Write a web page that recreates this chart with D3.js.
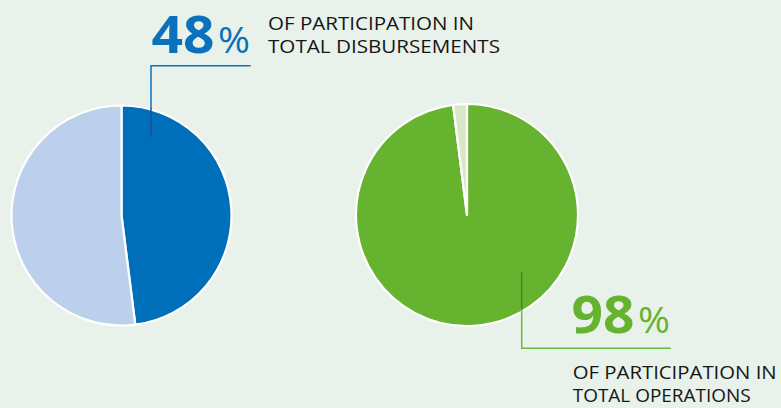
<!DOCTYPE html>
<html>
<head>
<meta charset="utf-8">
<script src="https://cdn.jsdelivr.net/npm/d3@7"></script>
<style>
html,body{margin:0;padding:0;background:#e8f2ea;}
svg{display:block;}
text{font-family:"Open Sans","Noto Sans",sans-serif;}
</style>
</head>
<body>
<svg id="chart" width="781" height="408"></svg>
<script>
const disbLabels = ["Participation", "Others"];
const disbValues = [48, 52];
const disbColors = ["#006fb9", "#bcd0ed"];

const opLabels = ["Participation", "Others"];
const opValues = [98, 2];
const opColors = ["#66b32f", "#d8e8c7"];

const headline1 = ["48", "%"];
const caption1 = ["OF PARTICIPATION IN", "TOTAL DISBURSEMENTS"];
const headline2 = ["98", "%"];
const caption2 = ["OF PARTICIPATION IN", "TOTAL OPERATIONS"];

const svg = d3.select("#chart");
svg.append("rect").attr("width", 781).attr("height", 408).attr("fill", "#e8f2ea");

const pie = d3.pie().sort(null).value(d => d);

function drawPie(cx, cy, r, values, colors) {
  const g = svg.append("g").attr("transform", `translate(${cx},${cy})`);
  const arc = d3.arc().innerRadius(0).outerRadius(r);
  g.selectAll("path").data(pie(values)).join("path")
    .attr("d", arc)
    .attr("fill", (d, i) => colors[i])
    .attr("stroke", "#ffffff")
    .attr("stroke-width", 2.2)
    .attr("stroke-linejoin", "round");
  return g;
}

drawPie(121.5, 215.5, 110, disbValues, disbColors);
drawPie(467, 215, 111, opValues, opColors);

// Leader line left
svg.append("path").attr("d", "M250.7,65.7 H151 V106.5").attr("fill", "none")
  .attr("stroke", "#0b73c1").attr("stroke-width", 1.5);
svg.append("line").attr("x1", 151).attr("x2", 151).attr("y1", 106.5).attr("y2", 136.5)
  .attr("stroke", "#1c4f90").attr("stroke-width", 1.5);

// Leader line right
svg.append("line").attr("x1", 521.7).attr("x2", 521.7).attr("y1", 271.5).attr("y2", 309)
  .attr("stroke", "#3f8a25").attr("stroke-width", 1.5);
svg.append("path").attr("d", "M521.7,309 V348.3 H670.7").attr("fill", "none")
  .attr("stroke", "#6ab83e").attr("stroke-width", 1.5);

function headline(x, y, parts, color, pctX) {
  svg.append("text").attr("x", x).attr("y", y).attr("fill", color)
    .attr("font-size", 52).attr("font-weight", 700)
    .attr("textLength", 63).attr("lengthAdjust", "spacingAndGlyphs")
    .text(parts[0]);
  svg.append("text").attr("x", pctX).attr("y", y).attr("fill", color)
    .attr("font-size", 37).attr("font-weight", 400)
    .attr("textLength", 32).attr("lengthAdjust", "spacingAndGlyphs")
    .text(parts[1]);
}
function caption(x, y, lines, widths) {
  lines.forEach((l, i) => {
    svg.append("text").attr("x", x).attr("y", y + i * 23)
      .attr("font-size", 19).attr("fill", "#161616")
      .attr("textLength", widths[i]).attr("lengthAdjust", "spacingAndGlyphs")
      .text(l);
  });
}

headline(151.5, 52.7, headline1, "#0a72bd", 218);
caption(268, 30, caption1, [206, 232]);
headline(571.5, 332.7, headline2, "#66b32f", 638);
caption(572.7, 379, caption2, [204, 178]);
</script>
</body>
</html>
